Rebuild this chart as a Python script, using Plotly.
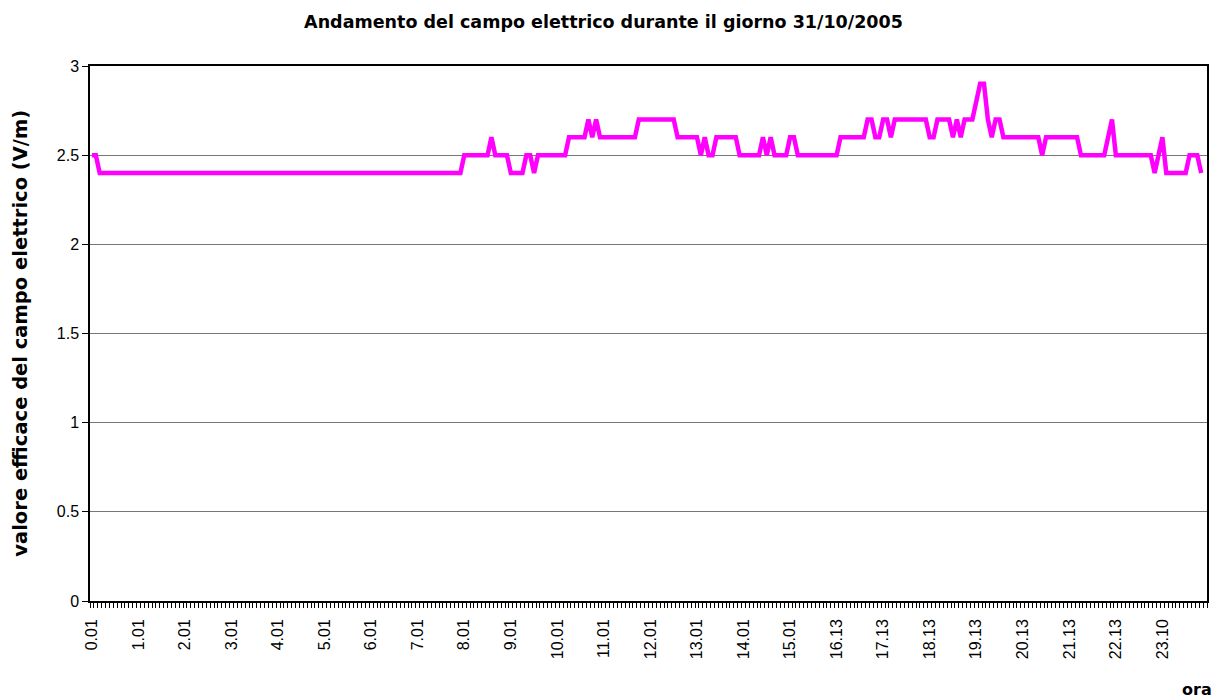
import plotly.graph_objects as go

title_text = "Andamento del campo elettrico durante il giorno 31/10/2005"
y_title = "valore efficace del campo elettrico (V/m)"
x_title = "ora"

# tick labels (one every 12 samples)
tick_labels = ["0.01", "1.01", "2.01", "3.01", "4.01", "5.01", "6.01", "7.01",
               "8.01", "9.01", "10.01", "11.01", "12.01", "13.01", "14.01", "15.01",
               "16.13", "17.13", "18.13", "19.13", "20.13", "21.13", "22.13", "23.10"]
label_step = 12

# electric field values (V/m), one per sample
values = (
    [2.5, 2.5]
    + [2.4] * 94
    + [2.5, 2.5, 2.5, 2.5, 2.5, 2.5, 2.5, 2.6, 2.5, 2.5, 2.5, 2.5,
       2.4, 2.4, 2.4, 2.4, 2.5, 2.5, 2.4,
       2.5, 2.5, 2.5, 2.5, 2.5, 2.5, 2.5, 2.5,
       2.6, 2.6, 2.6, 2.6, 2.6, 2.7, 2.6, 2.7,
       2.6, 2.6, 2.6, 2.6, 2.6, 2.6, 2.6, 2.6, 2.6, 2.6,
       2.7, 2.7, 2.7, 2.7, 2.7, 2.7, 2.7, 2.7, 2.7, 2.7,
       2.6, 2.6, 2.6, 2.6, 2.6, 2.6, 2.5, 2.6, 2.5, 2.5,
       2.6, 2.6, 2.6, 2.6, 2.6, 2.6,
       2.5, 2.5, 2.5, 2.5, 2.5, 2.5, 2.6, 2.5, 2.6,
       2.5, 2.5, 2.5, 2.5, 2.6, 2.6,
       2.5, 2.5, 2.5, 2.5, 2.5, 2.5, 2.5, 2.5, 2.5, 2.5, 2.5,
       2.6, 2.6, 2.6, 2.6, 2.6, 2.6, 2.6,
       2.7, 2.7, 2.6, 2.6, 2.7, 2.7, 2.6,
       2.7, 2.7, 2.7, 2.7, 2.7, 2.7, 2.7, 2.7, 2.7,
       2.6, 2.6, 2.7, 2.7, 2.7, 2.7, 2.6, 2.7, 2.6,
       2.7, 2.7, 2.7, 2.8, 2.9, 2.9, 2.7, 2.6, 2.7, 2.7,
       2.6, 2.6, 2.6, 2.6, 2.6, 2.6, 2.6, 2.6, 2.6, 2.6,
       2.5,
       2.6, 2.6, 2.6, 2.6, 2.6, 2.6, 2.6, 2.6, 2.6,
       2.5, 2.5, 2.5, 2.5, 2.5, 2.5, 2.5, 2.6, 2.7,
       2.5, 2.5, 2.5, 2.5, 2.5, 2.5, 2.5, 2.5, 2.5, 2.5,
       2.4, 2.5, 2.6,
       2.4, 2.4, 2.4, 2.4, 2.4, 2.4,
       2.5, 2.5, 2.5, 2.4]
)

x_idx = list(range(len(values)))
tick_pos = [i * label_step for i in range(len(tick_labels))]

FONT = "Arial, 'Liberation Sans', sans-serif"
BOLD_FONT = "'DejaVu Sans', Arial, sans-serif"

fig = go.Figure()
fig.add_trace(go.Scatter(
    x=x_idx, y=values, mode="lines",
    line=dict(color="#FF00FF", width=4.5),
    hoverinfo="skip", showlegend=False,
))

# the page body adds an 8px offset, so the figure is laid out 8px smaller
W, H = 1223, 692
fig.update_layout(
    width=W, height=H,
    paper_bgcolor="white", plot_bgcolor="white",
    margin=dict(l=82, r=24, t=58, b=99),
    font=dict(family=FONT, size=16, color="black"),
    title=dict(text="<b>" + title_text + "</b>", x=595.5 / W, xanchor="center",
               y=1 - 14 / H, yanchor="middle", yref="container", xref="container",
               font=dict(family=BOLD_FONT, size=17.5, color="black")),
    xaxis=dict(
        range=[-0.5, 287.5], tickmode="array", tickvals=tick_pos, ticktext=tick_labels,
        tickangle=-90, ticks="", showgrid=False, zeroline=False,
        showline=True, linecolor="black", linewidth=1.5, mirror=True,
        ticklabelstandoff=10,
        tickfont=dict(family=FONT, size=16, color="black"),
        minor=dict(ticks="outside", tick0=-0.5, dtick=1, ticklen=5,
                   tickcolor="black", tickwidth=1, showgrid=False),
    ),
    yaxis=dict(
        range=[0, 3], tickmode="linear", tick0=0, dtick=0.5,
        ticks="outside", ticklen=6, tickcolor="black",
        showgrid=True, gridcolor="#777777", gridwidth=1, zeroline=False,
        showline=True, linecolor="black", linewidth=1.5, mirror=True,
        tickfont=dict(family=FONT, size=16, color="black"),
    ),
    annotations=[
        dict(text="<b>" + y_title + "</b>", textangle=-90, xref="paper", yref="paper",
             x=-0.0625, y=0.5, xanchor="center", yanchor="middle", showarrow=False,
             font=dict(family=BOLD_FONT, size=19.5, color="black")),
        dict(text="<b>" + x_title + "</b>", xref="paper", yref="paper",
             x=0.991, y=-0.166, xanchor="center", yanchor="middle", showarrow=False,
             font=dict(family=BOLD_FONT, size=16, color="black")),
    ],
)

fig.write_html("out.html")
